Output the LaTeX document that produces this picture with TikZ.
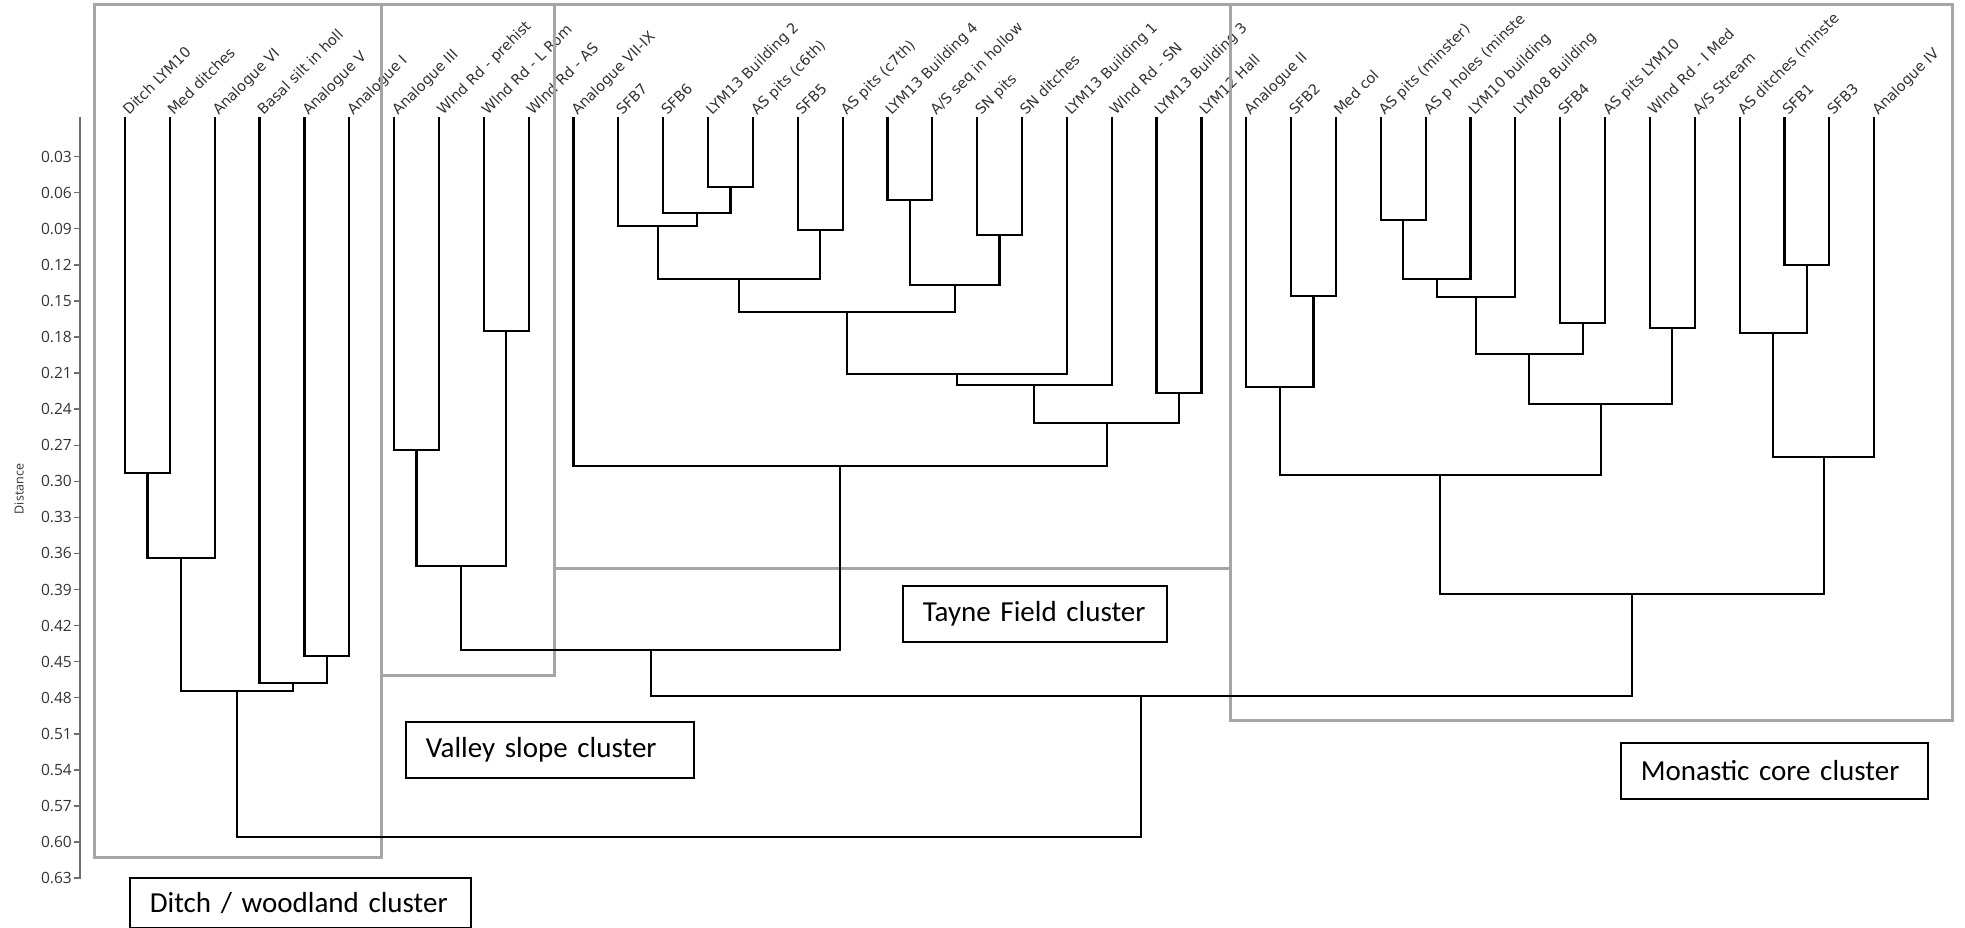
\documentclass[tikz,border=0pt]{standalone}
\usepackage{fontspec}
\setmainfont{Open Sans}
\newfontfamily\calfont{Carlito}
\newfontfamily\leaffont{DejaVu Sans}
\usetikzlibrary{calc}

\definecolor{framegray}{HTML}{A6A6A6}
\definecolor{labgray}{HTML}{333333}
\definecolor{axisgray}{HTML}{6E6E6E}

% join two subtrees (#2, #3) at height #4; the junction point is called #1
\newcommand{\joinpair}[4]{%
  \path let \p1 = ($(#2)!0.5!(#3)$), \p2 = (0,#4) in coordinate (#1) at (\x1,\y2);
  \draw[branch] (#2) |- (#1) -| (#3);
}

\tikzset{
  branch/.style={draw=black, line width=2.2pt},
  axisline/.style={draw=axisgray, line width=1.4pt},
  clusterframe/.style={draw=framegray, line width=3pt},
  leaflab/.style={rotate=45, anchor=base west, inner sep=0pt, text=labgray,
    font=\leaffont\fontsize{14.5}{17}\selectfont},
  ticklab/.style={anchor=east, inner sep=0pt, text=labgray,
    font=\fontsize{15.5}{18}\selectfont},
  clusterlab/.style={draw=black, line width=1.6pt, fill=white, anchor=north west,
    inner xsep=20pt, inner ysep=0pt, align=left,
    font=\calfont\fontsize{29}{34}\selectfont}
}

\begin{document}
\begin{tikzpicture}[x=1pt, y=-1pt]
\useasboundingbox (0,0) rectangle (1965,928);

% ---- leaves and their labels ----
\foreach \lab [count=\i from 0] in {
  Ditch LYM10, Med ditches, Analogue VI, Basal silt in holl, Analogue V,
  Analogue I, Analogue III, Wlnd Rd - prehist, Wlnd Rd - L Rom, Wlnd Rd - AS,
  Analogue VII-IX, SFB7, SFB6, LYM13 Building 2, AS pits (c6th),
  SFB5, AS pits (c7th), LYM13 Building 4, A/S seq in hollow, SN pits,
  SN ditches, LYM13 Building 1, Wlnd Rd - SN, LYM13 Building 3, LYM12 Hall,
  Analogue II, SFB2, Med col, AS pits (minster), AS p holes (minste,
  LYM10 building, LYM08 Building, SFB4, AS pits LYM10, Wlnd Rd - I Med,
  A/S Stream, AS ditches (minste, SFB1, SFB3, Analogue IV} {
  \coordinate (L\i) at ({125+44.85*\i},117);
  \node[leaflab] (n\i) at ($(L\i)+(4,-1)$) {\lab};
}

% ---- distance axis ----
\coordinate (ax0) at (80,117);
\coordinate (ax1) at (80,878.5);
\draw[axisline] (ax0) -- (ax1);
\foreach \t [count=\k from 0] in {0.03,0.06,0.09,0.12,0.15,0.18,0.21,0.24,0.27,0.30,
  0.33,0.36,0.39,0.42,0.45,0.48,0.51,0.54,0.57,0.60,0.63} {
  \coordinate (tk\k) at (80,{156.6+36.075*\k});
  \coordinate (te\k) at (74,{156.6+36.075*\k});
  \draw[axisline] (tk\k) -- (te\k);
  \node[ticklab] (tl\k) at (72,{156.6+36.075*\k}) {\t};
}
\node[rotate=90, inner sep=0pt, text=labgray, font=\fontsize{12.5}{15}\selectfont]
  (distlab) at (19,489) {Distance};

% ---- cluster frames ----
\draw[clusterframe] (94,5) rectangle (381,857);
\draw[clusterframe] (381,5) rectangle (554,675);
\draw[clusterframe] (554,5) rectangle (1230,568);
\draw[clusterframe] (1230,5) rectangle (1952,720);

% ---- dendrogram: ditch / woodland ----
\joinpair{m1}{L0}{L1}{473}
\joinpair{m2}{m1}{L2}{557.7}
\joinpair{m3}{L4}{L5}{655.7}
\joinpair{m4}{L3}{m3}{683.3}
\joinpair{m5}{m2}{m4}{690.7}

% ---- valley slope ----
\joinpair{v1}{L6}{L7}{450}
\joinpair{v2}{L8}{L9}{331}
\joinpair{v3}{v1}{v2}{566}

% ---- Tayne Field ----
\joinpair{t1}{L13}{L14}{186.7}
\joinpair{t2}{L12}{t1}{213.3}
\joinpair{t3}{L11}{t2}{226.3}
\joinpair{t4}{L15}{L16}{230}
\joinpair{t5}{t3}{t4}{279}
\joinpair{t6}{L17}{L18}{200.3}
\joinpair{t7}{L19}{L20}{234.7}
\joinpair{t8}{t6}{t7}{285.3}
\joinpair{t9}{t5}{t8}{312}
\joinpair{t10}{t9}{L21}{373.7}
\joinpair{t11}{t10}{L22}{385}
\joinpair{t12}{L23}{L24}{392.7}
\joinpair{t13}{t11}{t12}{422.7}
\joinpair{t14}{L10}{t13}{466}
\joinpair{vt}{v3}{t14}{650}

% ---- monastic core ----
\joinpair{c1}{L26}{L27}{295.7}
\joinpair{c2}{L25}{c1}{387.3}
\joinpair{c3}{L28}{L29}{220.3}
\joinpair{c4}{c3}{L30}{279.3}
\joinpair{c5}{c4}{L31}{296.7}
\joinpair{c6}{L32}{L33}{323.3}
\joinpair{c7}{c5}{c6}{353.7}
\joinpair{c8}{L34}{L35}{327.7}
\joinpair{c9}{c7}{c8}{404.3}
\joinpair{c10}{c2}{c9}{475}
\joinpair{c11}{L37}{L38}{265.3}
\joinpair{c12}{L36}{c11}{332.7}
\joinpair{c13}{c12}{L39}{456.7}
\joinpair{c14}{c10}{c13}{594}
\joinpair{vtc}{vt}{c14}{695.7}
\joinpair{root}{m5}{vtc}{837.3}

% ---- cluster captions ----
\node[clusterlab, text width=301pt, minimum height=50pt] (capditch) at (129,877) {Ditch / woodland cluster};
\node[clusterlab, text width=248pt, minimum height=56pt] (capvalley) at (405,721) {Valley slope cluster};
\node[clusterlab, text width=224pt, minimum height=56pt] (captayne) at (902,585) {Tayne Field cluster};
\node[clusterlab, text width=267pt, minimum height=56pt] (capmonastic) at (1620,742) {Monastic core cluster};
\end{tikzpicture}
\end{document}
